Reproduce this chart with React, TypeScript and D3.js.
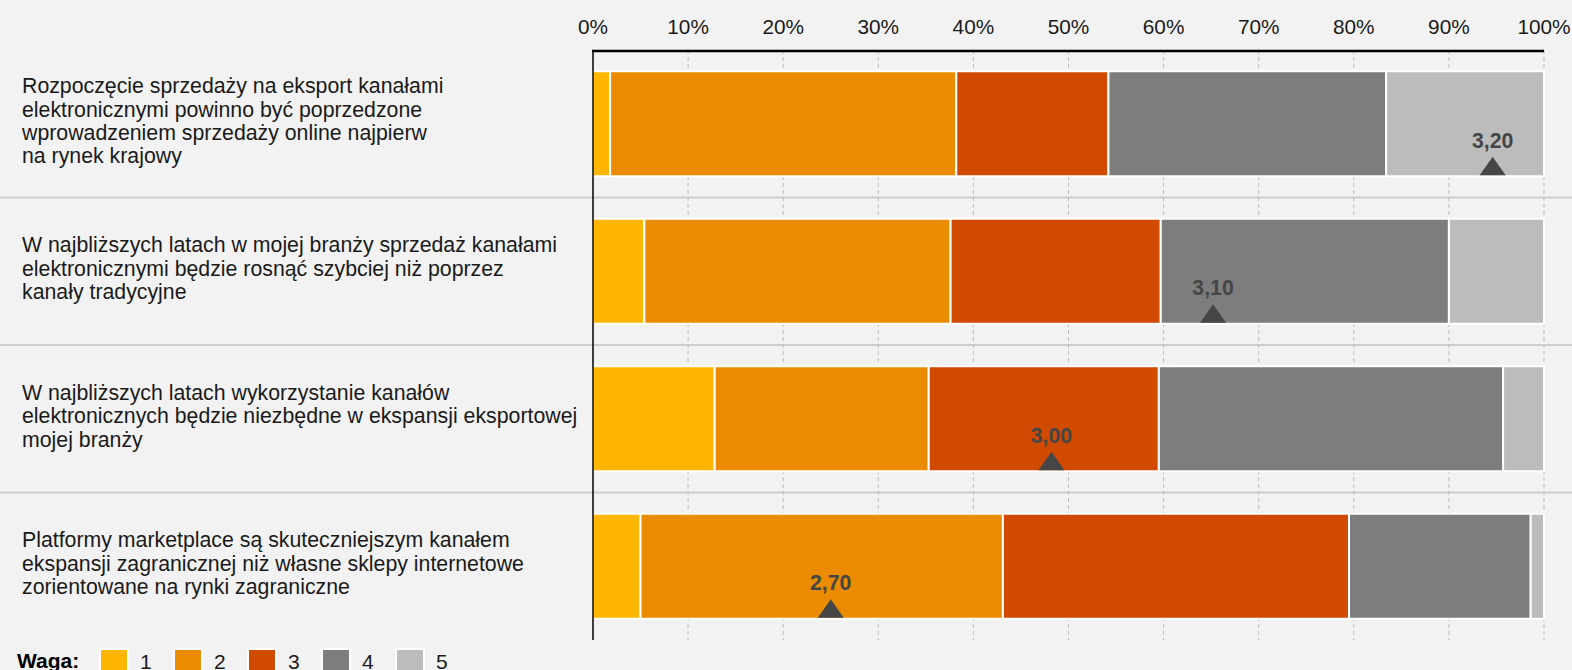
import React from "react";
import * as d3 from "d3";

const categories: string[][] = [
  ["Rozpoczęcie sprzedaży na eksport kanałami", "elektronicznymi powinno być poprzedzone", "wprowadzeniem sprzedaży online najpierw", "na rynek krajowy"],
  ["W najbliższych latach w mojej branży sprzedaż kanałami", "elektronicznymi będzie rosnąć szybciej niż poprzez", "kanały tradycyjne"],
  ["W najbliższych latach wykorzystanie kanałów", "elektronicznych będzie niezbędne w ekspansji eksportowej", "mojej branży"],
  ["Platformy marketplace są skuteczniejszym kanałem", "ekspansji zagranicznej niż własne sklepy internetowe", "zorientowane na rynki zagraniczne"],
];

const weight1 = [1.8, 5.4, 12.8, 5.0];
const weight2 = [36.4, 32.2, 22.5, 38.1];
const weight3 = [16.0, 22.1, 24.2, 36.4];
const weight4 = [29.2, 30.3, 36.2, 19.1];
const weight5 = [16.6, 10.0, 4.3, 1.4];

const meanLabels = ["3,20", "3,10", "3,00", "2,70"];
const markerPositions = [94.6, 65.2, 48.2, 25.0];

const seriesKeys = ["1", "2", "3", "4", "5"];
const seriesColors = ["#FFB600", "#EB8C00", "#D04A02", "#7D7D7D", "#BCBCBC"];
const tickValues = [0, 10, 20, 30, 40, 50, 60, 70, 80, 90, 100];
const legendTitle = "Waga:";

const W = 1572;
const H = 670;
const FONT = "'Liberation Sans', Arial, sans-serif";

export default function App() {
  const x = d3.scaleLinear().domain([0, 100]).range([593, 1544]);
  const rows = categories.map((_, i) => String(i));
  const y = d3.scaleBand<string>().domain(rows).range([50, 640]).paddingInner(0.288).paddingOuter(0.144);

  const table = rows.map((r, i) => ({
    row: r,
    "1": weight1[i],
    "2": weight2[i],
    "3": weight3[i],
    "4": weight4[i],
    "5": weight5[i],
  }));
  const stacked = d3.stack<any>().keys(seriesKeys)(table);
  const step = y.step();

  return (
    <svg width={W} height={H} style={{ position: "absolute", left: 0, top: 0 }} fontFamily={FONT}>
      <rect x={0} y={0} width={W} height={H} fill="#F2F2F2" />
      {/* row separators */}
      {rows.slice(1).map((r) => (
        <line key={"sep" + r} x1={0} x2={W} y1={(y(r) as number) - y.paddingInner() * step / 2} y2={(y(r) as number) - y.paddingInner() * step / 2} stroke="#CDCDCD" strokeWidth={2} />
      ))}
      {/* gridlines */}
      {tickValues.slice(1).map((t) => (
        <line key={"g" + t} x1={x(t)} x2={x(t)} y1={50} y2={640} stroke="#BDBDBD" strokeWidth={1} strokeDasharray="4,3" />
      ))}
      {/* bars */}
      {stacked.map((s, si) => (
        <g key={s.key}>
          {s.map((d, i) => (
            <rect
              key={i}
              x={x(d[0])}
              y={y(rows[i])}
              width={x(d[1]) - x(d[0])}
              height={y.bandwidth()}
              fill={seriesColors[si]}
              stroke="#FFFFFF"
              strokeWidth={2}
            />
          ))}
        </g>
      ))}
      {/* axes */}
      <line x1={593} x2={593} y1={50} y2={640} stroke="#000" strokeWidth={1.5} />
      <line x1={592} x2={x(100)} y1={51} y2={51} stroke="#000" strokeWidth={2.5} />
      {tickValues.map((t) => (
        <text key={"t" + t} x={x(t)} y={34} textAnchor="middle" fontSize={20.8} fill="#1a1a1a">
          {t + "%"}
        </text>
      ))}
      {/* category labels */}
      {categories.map((lines, i) => {
        const cy = (y(rows[i]) as number) + y.bandwidth() / 2 - 2.5;
        const lh = 23.3;
        return (
          <text key={"c" + i} x={22} fontSize={21.3} fill="#1a1a1a">
            {lines.map((ln, j) => (
              <tspan key={j} x={22} y={cy + (j - (lines.length - 1) / 2) * lh + 7}>
                {ln}
              </tspan>
            ))}
          </text>
        );
      })}
      {/* mean markers */}
      {markerPositions.map((p, i) => {
        const bottom = (y(rows[i]) as number) + y.bandwidth();
        const cx = x(p);
        const tri = d3.line()([
          [cx - 13, bottom - 1],
          [cx + 13, bottom - 1],
          [cx, bottom - 19.5],
        ]) + "Z";
        return (
          <g key={"m" + i}>
            <path d={tri} fill="#464646" />
            <text x={cx} y={bottom - 28.5} textAnchor="middle" fontSize={21.3} fontWeight="bold" fill="#464646">
              {meanLabels[i]}
            </text>
          </g>
        );
      })}
      {/* legend */}
      <text x={17} y={668} fontSize={21} fontWeight="bold" fill="#000">
        {legendTitle}
      </text>
      {seriesKeys.map((k, i) => (
        <g key={"l" + k} transform={`translate(${100 + i * 74},649)`}>
          <rect x={0} y={0} width={28} height={28} fill={seriesColors[i]} stroke="#FFFFFF" strokeWidth={2} />
          <text x={40} y={20} fontSize={21} fill="#1a1a1a">
            {k}
          </text>
        </g>
      ))}
    </svg>
  );
}
